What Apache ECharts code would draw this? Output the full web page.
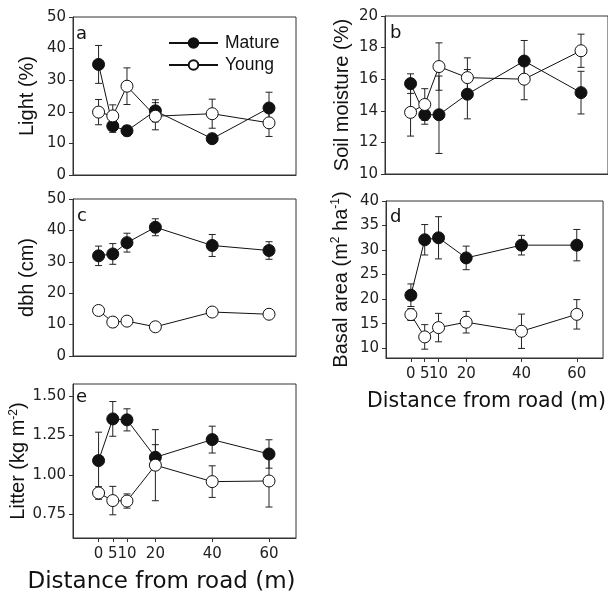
<!DOCTYPE html>
<html>
<head>
<meta charset="utf-8">
<script src="https://cdn.jsdelivr.net/npm/echarts@6/dist/echarts.min.js"></script>
<style>html,body{margin:0;padding:0;background:#fff;}#c{width:608px;height:597px;}</style>
</head>
<body>
<div id="c"></div>
<script>
const distance = [0, 5, 10, 20, 40, 60];
const xTicks = [0, 5, 10, 20, 40, 60];

const lightMature = [35.0, 15.5, 14.0, 20.3, 11.5, 21.2];
const lightMatureErr = [6.0, 2.0, 1.6, 3.5, 0.8, 5.0];
const lightYoung = [19.9, 18.7, 28.1, 18.6, 19.4, 16.5];
const lightYoungErr = [4.0, 3.5, 5.8, 4.3, 4.6, 4.3];

const soilMature = [15.72, 13.75, 13.75, 15.05, 17.15, 15.15];
const soilMatureErr = [0.62, 0.6, 2.45, 1.56, 1.3, 1.35];
const soilYoung = [13.9, 14.4, 16.8, 16.1, 16.0, 17.8];
const soilYoungErr = [1.5, 1.0, 1.5, 1.25, 1.3, 1.05];

const dbhMature = [31.9, 32.5, 36.1, 41.0, 35.2, 33.6];
const dbhMatureErr = [3.1, 3.3, 3.0, 2.7, 3.5, 2.8];
const dbhYoung = [14.5, 10.8, 11.1, 9.3, 14.0, 13.3];
const dbhYoungErr = [1.0, 1.5, 0.6, 0.5, 1.2, 1.0];

const basalMature = [20.8, 32.1, 32.5, 28.4, 31.0, 31.0];
const basalMatureErr = [2.3, 3.1, 4.3, 2.4, 2.0, 3.2];
const basalYoung = [16.85, 12.3, 14.2, 15.3, 13.45, 16.9];
const basalYoungErr = [1.2, 2.5, 2.9, 2.2, 3.5, 3.0];

const litterMature = [1.09, 1.354, 1.348, 1.111, 1.223, 1.132];
const litterMatureErr = [0.18, 0.11, 0.07, 0.08, 0.085, 0.09];
const litterYoung = [0.885, 0.837, 0.834, 1.061, 0.957, 0.961];
const litterYoungErr = [0.04, 0.09, 0.045, 0.225, 0.1, 0.165];

const panelLetters = ['a', 'b', 'c', 'd', 'e'];

const TICK_FONT = 'DejaVu Sans';
const NAME_FONT = 'Liberation Sans';
const AX = '#333';

const grids = [
  {left: 73, top: 17, width: 223, height: 158},
  {left: 385, top: 16, width: 224, height: 158},
  {left: 73, top: 199, width: 223, height: 157},
  {left: 386, top: 201, width: 223, height: 157},
  {left: 73, top: 384, width: 223, height: 154}
].map(g => Object.assign(g, {show: true, borderColor: AX, borderWidth: 1, containLabel: false}));

function xAxis(idx, withLabels, namePad, nameSize) {
  const ax = {
    type: 'value', gridIndex: idx, min: -9, max: 69.5,
    splitLine: {show: false},
    axisLine: {show: true, onZero: false, lineStyle: {color: AX, width: 1}},
    axisTick: {show: false},
    axisLabel: {show: false}
  };
  if (withLabels) {
    ax.axisTick = {show: true, length: 4, lineStyle: {color: AX}, customValues: xTicks};
    ax.axisLabel = {show: true, customValues: xTicks, margin: 9, fontFamily: TICK_FONT, fontSize: 15, color: '#222'};
    ax.name = 'Distance from road (m)';
    ax.nameLocation = 'middle';
    ax.nameGap = 33;
    ax.nameTextStyle = {fontFamily: TICK_FONT, fontSize: nameSize, color: '#111', padding: namePad};
  }
  return ax;
}

function yAxis(idx, min, max, ticks, name, gap, fmt) {
  return {
    type: 'value', gridIndex: idx, min: min, max: max,
    splitLine: {show: false},
    axisLine: {show: true, onZero: false, lineStyle: {color: AX, width: 1}},
    axisTick: {show: true, length: 4, lineStyle: {color: AX}, customValues: ticks},
    axisLabel: {show: true, customValues: ticks, margin: 7, fontFamily: TICK_FONT, fontSize: 15, color: '#222',
      formatter: fmt || (v => String(v))},
    name: name, nameLocation: 'middle', nameGap: gap,
    nameTextStyle: {fontFamily: NAME_FONT, fontSize: 20, color: '#111',
      rich: {sup: {fontFamily: NAME_FONT, fontSize: 12, color: '#111', verticalAlign: 'top', padding: [0, 0, 10, 0]}}}
  };
}

function errRender(params, api) {
  const x = api.value(0), y = api.value(1), e = api.value(2);
  const top = api.coord([x, y + e]);
  const bot = api.coord([x, y - e]);
  const cw = 3.5;
  const st = {stroke: '#222', lineWidth: 1};
  return {type: 'group', children: [
    {type: 'line', shape: {x1: top[0], y1: top[1], x2: bot[0], y2: bot[1]}, style: st},
    {type: 'line', shape: {x1: top[0] - cw, y1: top[1], x2: top[0] + cw, y2: top[1]}, style: st},
    {type: 'line', shape: {x1: bot[0] - cw, y1: bot[1], x2: bot[0] + cw, y2: bot[1]}, style: st}
  ]};
}

function pts(vals) { return distance.map((d, i) => [d, vals[i]]); }
function errPts(vals, errs) { return distance.map((d, i) => [d, vals[i], errs[i]]); }

const panels = [
  [lightMature, lightMatureErr, lightYoung, lightYoungErr],
  [soilMature, soilMatureErr, soilYoung, soilYoungErr],
  [dbhMature, dbhMatureErr, dbhYoung, dbhYoungErr],
  [basalMature, basalMatureErr, basalYoung, basalYoungErr],
  [litterMature, litterMatureErr, litterYoung, litterYoungErr]
];

const series = [];
panels.forEach((p, i) => {
  series.push({type: 'custom', xAxisIndex: i, yAxisIndex: i, renderItem: errRender, data: errPts(p[0], p[1]), z: 1, silent: true, encode: {x: 0, y: 1}});
  series.push({type: 'custom', xAxisIndex: i, yAxisIndex: i, renderItem: errRender, data: errPts(p[2], p[3]), z: 1, silent: true, encode: {x: 0, y: 1}});
  series.push({name: 'Mature', type: 'line', xAxisIndex: i, yAxisIndex: i, data: pts(p[0]), z: 3,
    symbol: 'circle', symbolSize: 12, showAllSymbol: true,
    lineStyle: {color: '#111', width: 1}, itemStyle: {color: '#111', borderColor: '#111', borderWidth: 1}});
  series.push({name: 'Young', type: 'line', xAxisIndex: i, yAxisIndex: i, data: pts(p[2]), z: 4,
    symbol: 'circle', symbolSize: 12, showAllSymbol: true,
    lineStyle: {color: '#111', width: 1}, itemStyle: {color: '#fff', borderColor: '#111', borderWidth: 1}});
});

const letterPos = [[76, 25], [390, 24], [77, 207], [390, 208], [76, 388]];
const graphics = panelLetters.map((t, i) => ({
  type: 'text', left: letterPos[i][0], top: letterPos[i][1],
  style: {text: t, fontFamily: TICK_FONT, fontSize: 18, fill: '#111'}
}));

const option = {
  animation: false,
  backgroundColor: '#fff',
  grid: grids,
  xAxis: [xAxis(0, false), xAxis(1, false), xAxis(2, false),
          xAxis(3, true, [0, 16, 0, 0], 20.5), xAxis(4, true, [0, 46, 0, 0], 23)],
  yAxis: [
    yAxis(0, 0, 50, [0, 10, 20, 30, 40, 50], 'Light (%)', 36),
    yAxis(1, 10, 20, [10, 12, 14, 16, 18, 20], 'Soil moisture (%)', 33),
    yAxis(2, 0, 50, [0, 10, 20, 30, 40, 50], 'dbh (cm)', 36),
    yAxis(3, 8, 40, [10, 15, 20, 25, 30, 35, 40], 'Basal area (m{sup|2} ha{sup|-1})', 34),
    yAxis(4, 0.6, 1.575, [0.75, 1.0, 1.25, 1.5], 'Litter (kg m{sup|-2})', 42, v => v.toFixed(2))
  ],
  legend: {
    show: true, orient: 'vertical', left: 163, top: 29,
    data: ['Mature', 'Young'],
    itemWidth: 49, itemHeight: 12, itemGap: 4,
    textStyle: {fontFamily: NAME_FONT, fontSize: 17.5, color: '#111', lineHeight: 18, padding: [0, 0, 0, 2]}
  },
  graphic: graphics,
  series: series
};

const chart = echarts.init(document.getElementById('c'), null, {renderer: 'canvas'});
chart.setOption(option);
</script>
</body>
</html>
